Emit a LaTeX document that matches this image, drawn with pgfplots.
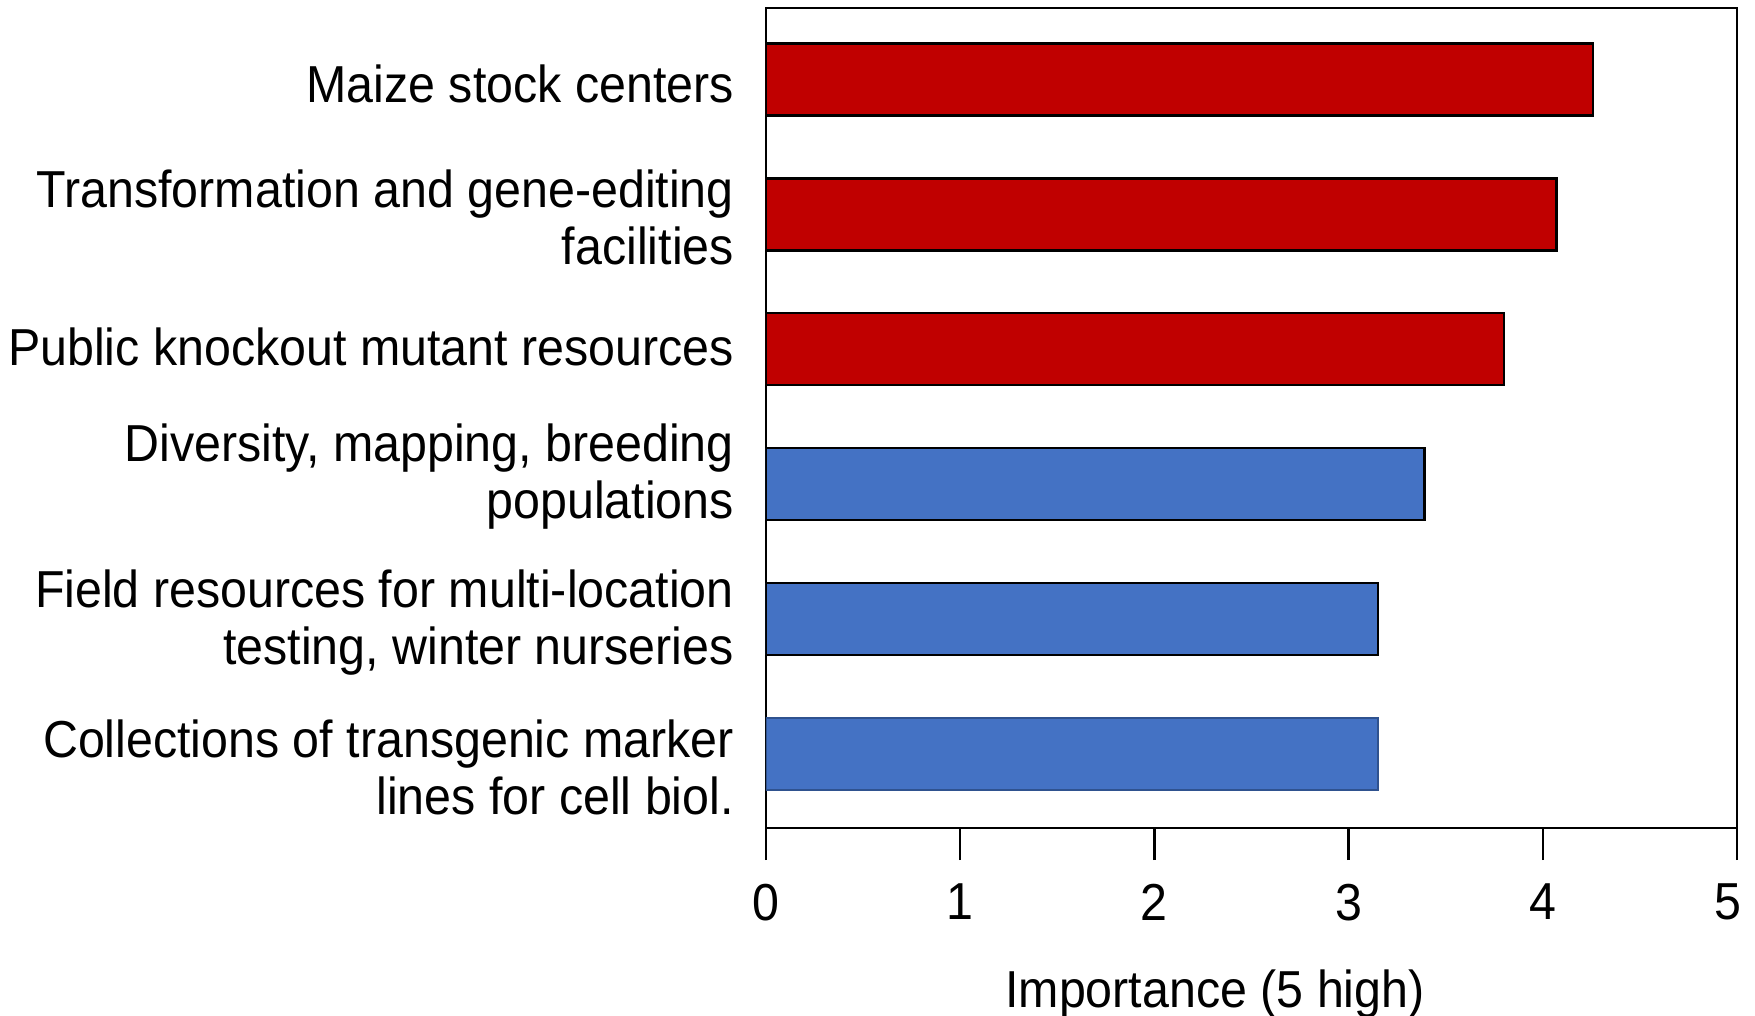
\documentclass[border=0pt]{standalone}
\usepackage{fontspec}
\setmainfont{Liberation Sans}[FakeStretch=0.93]
\usepackage{pgfplots}
\pgfplotsset{compat=1.18}
\definecolor{cred}{HTML}{C00000}
\definecolor{cblue}{HTML}{4472C4}
\definecolor{cblueedge}{HTML}{2F528F}
\begin{document}
\fontsize{13}{14.25}\selectfont
\begin{tikzpicture}
\begin{axis}[
  at={(0,0)}, anchor=south west,
  scale only axis, width=242.75pt, height=205pt,
  xmin=0, xmax=5, ymin=-0.55, ymax=5.53,
  xtick={0,1,2,3,4,5}, xtick pos=bottom,
  tick align=outside, major tick length=8pt,
  x tick style={black, line width=0.6pt},
  y tick style={draw=none},
  axis line style={line width=0.6pt},
  /pgf/number format/assume math mode=true,
  ticklabel style={font=\fontsize{13}{14.25}\selectfont},
  xticklabel style={yshift=-1.5pt},
  xticklabels={0,1,2,3,4,\makebox[0pt][r]{5\hspace{-1pt}}},
  ytick={-0.07,1,2.083,3.05,4.01,5},
  yticklabels={{Collections of transgenic marker\\lines for cell biol.},
               {Field resources for multi-location\\testing, winter nurseries},
               {Diversity, mapping, breeding\\populations},
               {Public knockout mutant resources},
               {Transformation and gene-editing\\facilities},
               {Maize stock centers}},
  yticklabel style={align=right, xshift=4.5pt, yshift=-1pt},
  xlabel={Importance (5 high)},
  xlabel style={font=\fontsize{13}{14.25}\selectfont, at={(axis description cs:0.4624,0)}, anchor=base, yshift=-44.9pt},
]
\addplot[xbar, bar width=18pt, bar shift=0pt, fill=cred, draw=black, line width=0.6pt] coordinates {(4.26,5) (4.07,4) (3.80,3)};
\addplot[xbar, bar width=18pt, bar shift=0pt, fill=cblue, draw=black, line width=0.6pt] coordinates {(3.39,2) (3.15,1)};
\addplot[xbar, bar width=18pt, bar shift=0pt, fill=cblue, draw=cblueedge, line width=0.6pt] coordinates {(3.15,0)};
\end{axis}
\pgfresetboundingbox
\path[use as bounding box] (-191.5pt,-47pt) rectangle (247.25pt,207pt);
\end{tikzpicture}
\end{document}
